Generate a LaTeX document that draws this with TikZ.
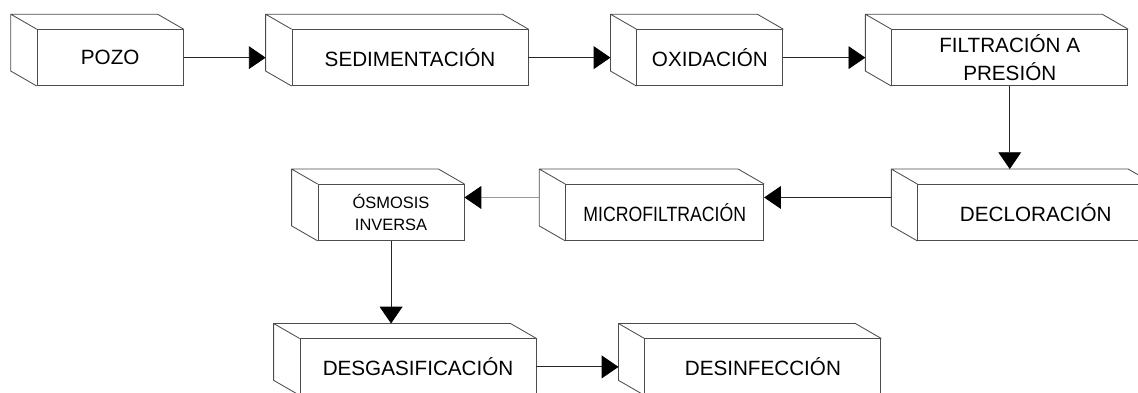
\documentclass[tikz,border=0pt]{standalone}
\usepackage{fontspec}
\usepackage{graphicx}
\setmainfont{Liberation Sans}
\usetikzlibrary{positioning,arrows.meta}

\begin{document}
\begin{tikzpicture}[node distance=2.7cm, every node/.style={font=\fontsize{14.7}{20}\selectfont,align=center},
  caja/.style={draw=black!70,line width=0.6pt,fill=white,minimum width=5.9cm,minimum height=1.4cm,inner sep=0pt},
  corta/.style={caja,minimum width=3.65cm},
  flecha/.style={draw=black!85,line width=0.6pt,-{Triangle[length=4.2mm,width=5.7mm,black]}}]
\useasboundingbox (0,0) rectangle (28.45,-9.8);
\node[corta,anchor=north west] (pozo) at (0.92,-0.73) {POZO};
\node[caja,right=of pozo] (sedim) {SEDIMENTACIÓN};
\node[corta,right=of sedim] (oxid) {OXIDACIÓN};
\node[caja,right=of oxid] (filtr) {FILTRACIÓN A\\PRESIÓN};
\node[caja,below=2.45cm of filtr.south west,anchor=north west,xshift=0.65cm] (declor) {DECLORACIÓN};
\node[caja,minimum width=4.95cm,left=3.83cm of declor] (microf) {\scalebox{0.855}[1]{MICROFILTRACIÓN}};
\node[corta,left=2.52cm of microf,font=\fontsize{11.7}{15}\selectfont] (osmosis) {ÓSMOSIS\\INVERSA};
\node[caja,below=2.44cm of osmosis.south west,anchor=north west,xshift=-0.45cm] (desgas) {DESGASIFICACIÓN};
\node[caja,right=of desgas] (desinf) {DESINFECCIÓN};
% caras lateral y superior de cada caja
\foreach \n in {pozo,sedim,oxid,filtr,declor,microf,osmosis,desgas,desinf} {
  \draw[black!70,line width=0.6pt] (\n.south west) -- ++(-0.65,0.375) -- ([shift={(-0.65,0.375)}]\n.north west)
    -- ([shift={(-0.65,0.375)}]\n.north east) -- (\n.north east) (\n.north west) -- ++(-0.65,0.375);
  \coordinate (\n-b) at ([shift={(-0.65,0.375)}]\n.west);
  \coordinate (\n-t) at ([shift={(-0.65,0.375)}]\n.north);
}
\draw[flecha] (pozo.east) -- (pozo.east -| sedim-b);
\draw[flecha] (sedim.east) -- (sedim.east -| oxid-b);
\draw[flecha] (oxid.east) -- (oxid.east -| filtr-b);
\draw[flecha] (filtr.south) -- (filtr.south |- declor-t);
\draw[flecha] (declor-b) -- (declor-b -| microf.east);
\draw[flecha,draw=black!40] (microf-b) -- (microf-b -| osmosis.east);
\draw[flecha] (osmosis.south) -- (osmosis.south |- desgas-t);
\draw[flecha] (desgas.east) -- (desgas.east -| desinf-b);
\end{tikzpicture}
\end{document}
